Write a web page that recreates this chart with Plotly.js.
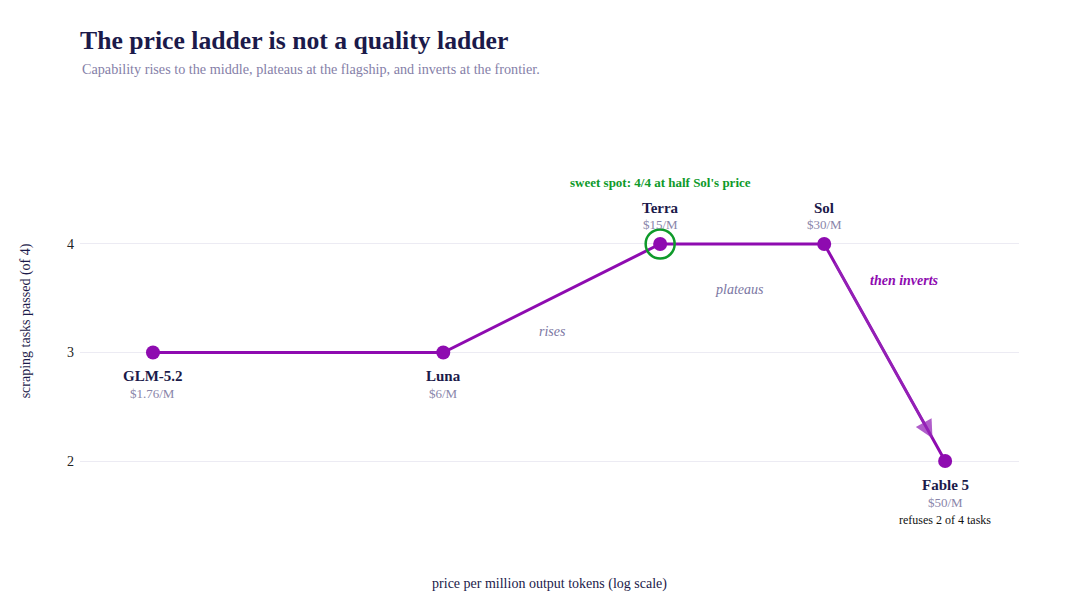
<!DOCTYPE html>
<html>
<head>
<meta charset="utf-8">
<script src="https://cdn.plot.ly/plotly-3.0.1.min.js"></script>
<style>html,body{margin:0;padding:0;background:#fff;}#chart{width:1080px;height:608px;}</style>
</head>
<body>
<div id="chart"></div>
<script>
// ---- data ----
const models = ["GLM-5.2", "Luna", "Terra", "Sol", "Fable 5"];
const prices = [1.76, 6, 15, 30, 50];
const passed = [3, 3, 4, 4, 2];
const priceLabels = ["$1.76/M", "$6/M", "$15/M", "$30/M", "$50/M"];
const labelSide = ["below", "below", "above", "above", "below"];
const notes = ["", "", "", "", "refuses 2 of 4 tasks"];
const sweetSpotModel = "Terra";
const sweetSpotText = "sweet spot: 4/4 at half Sol's price";
const titleText = "The price ladder is not a quality ladder";
const subtitleText = "Capability rises to the middle, plateaus at the flagship, and inverts at the frontier.";

const FONT = "Liberation Serif, Times New Roman, serif";
const NAVY = "#1b1a4a";
const MUTED = "#8a86aa";
const PURPLE = "#8e0bb0";
const GREEN = "#0e9a2a";
const lg = v => Math.log10(v);

const traces = [
  {
    x: prices, y: passed, type: "scatter", mode: "lines+markers",
    line: {color: PURPLE, width: 3},
    marker: {color: PURPLE, size: 14},
    hoverinfo: "skip", showlegend: false
  },
  {
    x: [prices[models.indexOf(sweetSpotModel)]],
    y: [passed[models.indexOf(sweetSpotModel)]],
    type: "scatter", mode: "markers",
    marker: {symbol: "circle-open", size: 29, color: GREEN, line: {color: GREEN, width: 2.5}},
    hoverinfo: "skip", showlegend: false
  }
];

const annotations = [];
models.forEach((m, i) => {
  const up = labelSide[i] === "above";
  annotations.push({
    x: lg(prices[i]), y: passed[i], xref: "x", yref: "y", showarrow: false,
    text: "<b>" + m + "</b>", font: {family: FONT, size: 15, color: NAVY},
    yshift: up ? 36 : -24
  });
  annotations.push({
    x: lg(prices[i]), y: passed[i], xref: "x", yref: "y", showarrow: false,
    text: priceLabels[i], font: {family: FONT, size: 13, color: MUTED},
    yshift: up ? 19 : -41
  });
  if (notes[i]) {
    annotations.push({
      x: lg(prices[i]), y: passed[i], xref: "x", yref: "y", showarrow: false,
      text: notes[i], font: {family: FONT, size: 12, color: "#111"},
      yshift: -59
    });
  }
});
const si = models.indexOf(sweetSpotModel);
annotations.push({
  x: lg(prices[si]), y: passed[si], xref: "x", yref: "y", showarrow: false,
  text: "<b>" + sweetSpotText + "</b>", font: {family: FONT, size: 13, color: GREEN},
  yshift: 61
});
annotations.push({
  x: lg(9.5), y: 3.19, xref: "x", yref: "y", showarrow: false,
  text: "<i>rises</i>", font: {family: FONT, size: 14, color: "#7a76a2"}
});
annotations.push({
  x: lg(21), y: 3.576, xref: "x", yref: "y", showarrow: false,
  text: "<i>plateaus</i>", font: {family: FONT, size: 14, color: "#7a76a2"}
});
annotations.push({
  x: lg(42.2), y: 3.66, xref: "x", yref: "y", showarrow: false,
  text: "<b><i>then inverts</i></b>", font: {family: FONT, size: 14, color: PURPLE}
});
// arrow from Sol to Fable 5
annotations.push({
  x: lg(prices[4]), y: passed[4], xref: "x", yref: "y",
  ax: lg(prices[3]), ay: passed[3], axref: "x", ayref: "y",
  text: "", showarrow: true, arrowhead: 2, arrowsize: 1.5, arrowwidth: 2.4,
  arrowcolor: "rgba(150,40,185,0.75)", standoff: 26, startstandoff: 20
});
// subtitle
annotations.push({
  x: 0, y: 1.070, xref: "paper", yref: "paper", xanchor: "left", yanchor: "middle",
  showarrow: false, text: subtitleText,
  font: {family: FONT, size: 14.2, color: "#8580a8"}
});

const layout = {
  width: 1080, height: 608,
  paper_bgcolor: "#fff", plot_bgcolor: "#fff",
  margin: {l: 80, r: 61, t: 100, b: 66},
  font: {family: FONT, color: NAVY},
  title: {
    text: "<b>" + titleText + "</b>",
    x: 0, xref: "paper", xanchor: "left", y: 0.934, yanchor: "middle", yref: "container",
    font: {family: FONT, size: 25.7, color: NAVY}
  },
  xaxis: {
    type: "log", range: [0.1116, 1.8345],
    showgrid: false, zeroline: false, showline: false, showticklabels: false, ticks: "",
    title: {text: "price per million output tokens (log scale)", font: {family: FONT, size: 14, color: NAVY}, standoff: 36}
  },
  yaxis: {
    range: [1.2535, 5.327], tickvals: [2, 3, 4],
    showgrid: true, gridcolor: "#ecebf3", gridwidth: 1, zeroline: false, showline: false,
    tickfont: {family: FONT, size: 14, color: "#222"}, ticks: "", ticklabelstandoff: 5,
    title: {text: "scraping tasks passed (of 4)", font: {family: FONT, size: 14, color: NAVY}, standoff: 33}
  },
  annotations: annotations,
  showlegend: false
};

Plotly.newPlot("chart", traces, layout, {displayModeBar: false, staticPlot: true});
</script>
</body>
</html>
